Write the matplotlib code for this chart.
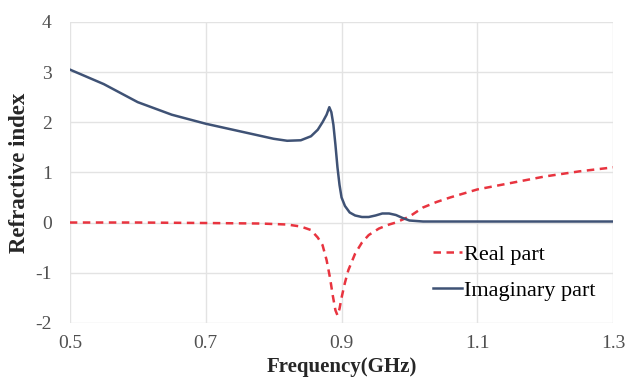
import matplotlib
matplotlib.use('Agg')
import matplotlib.pyplot as plt

plt.rcParams['font.family'] = ['Liberation Serif', 'DejaVu Serif']
plt.rcParams['axes.unicode_minus'] = False

# imaginary part of the refractive index
freq_imag = [0.50, 0.55, 0.60, 0.65, 0.70, 0.75, 0.78, 0.80, 0.82, 0.84,
             0.855, 0.865, 0.872, 0.878, 0.882, 0.885, 0.888, 0.891, 0.894, 0.897,
             0.900, 0.905, 0.912, 0.920, 0.930, 0.940, 0.950, 0.960, 0.970, 0.980,
             0.990, 1.000, 1.020, 1.100, 1.200, 1.300]
imag_part = [3.05, 2.76, 2.40, 2.15, 1.97, 1.82, 1.73, 1.67, 1.63, 1.64,
             1.72, 1.85, 2.00, 2.15, 2.30, 2.20, 1.95, 1.55, 1.10, 0.75,
             0.50, 0.33, 0.20, 0.14, 0.11, 0.11, 0.14, 0.18, 0.18, 0.15,
             0.09, 0.04, 0.02, 0.02, 0.02, 0.02]

# real part of the refractive index
freq_real = [0.50, 0.60, 0.70, 0.78, 0.82, 0.84, 0.855, 0.865, 0.872, 0.878,
             0.883, 0.887, 0.891, 0.894, 0.897, 0.900, 0.905, 0.910, 0.920, 0.930,
             0.940, 0.955, 0.970, 0.980, 1.000, 1.020, 1.040, 1.060, 1.080, 1.100,
             1.150, 1.200, 1.250, 1.300]
real_part = [0.00, 0.00, -0.01, -0.02, -0.04, -0.08, -0.15, -0.30, -0.45, -0.75,
             -1.10, -1.45, -1.75, -1.85, -1.72, -1.50, -1.20, -0.95, -0.62, -0.40,
             -0.25, -0.12, -0.04, 0.00, 0.12, 0.30, 0.41, 0.50, 0.58, 0.66,
             0.79, 0.92, 1.02, 1.10]

x_ticks = [0.5, 0.7, 0.9, 1.1, 1.3]
x_labels = ['0.5', '0.7', '0.9', '1.1', '1.3']
y_ticks = [-2, -1, 0, 1, 2, 3, 4]

fig = plt.figure(figsize=(6.29, 3.78), dpi=100)
ax = fig.add_axes([0.111, 0.146, 0.864, 0.796])

ax.plot(freq_real, real_part, color='#e8343f', linewidth=1.8,
        linestyle=(0, (3, 2.2)), label='Real part')
ax.plot(freq_imag, imag_part, color='#3f5275', linewidth=1.8, label='Imaginary part')

ax.set_xlim(0.5, 1.3)
ax.set_ylim(-2, 4)
ax.set_xticks(x_ticks)
ax.set_xticklabels(x_labels)
ax.set_yticks(y_ticks)
ax.tick_params(length=0, labelsize=14, colors='#505050')
ax.tick_params(axis='x', pad=9)
ax.tick_params(axis='y', pad=13)
ax.grid(True, color='#e3e3e3', linewidth=1)
ax.set_axisbelow(True)
for s in ax.spines.values():
    s.set_visible(False)

ax.set_xlabel('Frequency(GHz)', fontsize=15, fontweight='bold', color='#262626')
ax.xaxis.set_label_coords(0.5, -0.113)
ax.set_ylabel('Refractive index', fontsize=16.5, fontweight='bold', color='#262626')
ax.yaxis.set_label_coords(-0.073, 0.5)

ax.legend(loc='upper left', bbox_to_anchor=(0.668, 0.262), frameon=False,
          fontsize=16, handlelength=1.3, handletextpad=0.1, labelspacing=0.7,
          borderpad=0, borderaxespad=0)

fig.savefig('out.png', dpi=100)
